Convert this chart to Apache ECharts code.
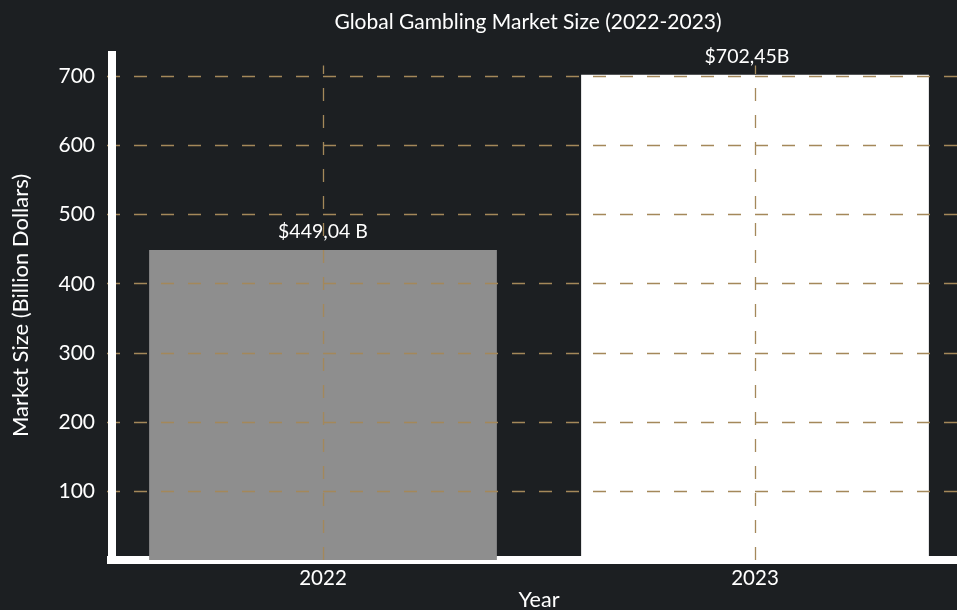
<!DOCTYPE html>
<html>
<head>
<meta charset="utf-8">
<script src="https://cdn.jsdelivr.net/npm/echarts@6/dist/echarts.min.js"></script>
<style>
  html, body { margin: 0; padding: 0; background: #1c1f22; }
  #view { width: 957px; height: 610px; }
</style>
</head>
<body>
<div id="view"></div>
<script>
var years = ['2022', '2023'];
var marketSize = [449.04, 702.45];
var barLabels = ['$449,04 B', '$702,45B'];
var barColors = ['#8e8e8e', '#ffffff'];

var font = 'Lato';
var gridColor = '#a4885a';
var myChart = echarts.init(document.getElementById('view'));

var barData = marketSize.map(function (v, i) {
    return {
        value: v,
        itemStyle: { color: barColors[i] },
        label: { formatter: barLabels[i], offset: i == 1 ? [-8, 0] : [0, 0] }
    };
});

var vLines = years.map(function (y) {
    return [{ coord: [y, 0] }, { coord: [y, 716] }];
});

option = {
    backgroundColor: '#1c1f22',
    animation: false,
    title: {
        text: 'Global Gambling Market Size (2022-2023)',
        left: 523,
        textAlign: 'center',
        top: 7,
        textStyle: { color: '#ffffff', fontFamily: font, fontSize: 21, fontWeight: 'normal' }
    },
    grid: { left: 107, right: -14, top: 51, bottom: 50, containLabel: false, outerBoundsMode: 'none' },
    xAxis: {
        type: 'category',
        data: years,
        name: 'Year',
        nameLocation: 'middle',
        nameGap: 29,
        nameMoveOverlap: false,
        nameTextStyle: { color: '#ffffff', fontFamily: font, fontSize: 21.5 },
        axisLine: { lineStyle: { color: '#ffffff', width: 8, cap: 'butt' } },
        axisTick: { show: false },
        axisLabel: { color: '#ffffff', fontFamily: font, fontSize: 20.5, margin: 8 },
        splitLine: { show: false }
    },
    yAxis: {
        type: 'value',
        min: 0,
        max: 737,
        interval: 100,
        offset: -5,
        z: 5,
        name: 'Market Size (Billion Dollars)',
        nameLocation: 'middle',
        nameGap: 80,
        nameMoveOverlap: false,
        nameTextStyle: { color: '#ffffff', fontFamily: font, fontSize: 22 },
        axisLine: { show: true, lineStyle: { color: '#ffffff', width: 8, cap: 'butt' } },
        axisTick: { show: false },
        axisLabel: {
            color: '#ffffff', fontFamily: font, fontSize: 21, margin: 17,
            showMinLabel: false, showMaxLabel: false,
            formatter: function (v) { return v == 0 ? '' : v; }
        },
        splitLine: {
            show: true, showMinLine: false, showMaxLine: false,
            lineStyle: { color: gridColor, width: 1.4, type: [13, 14] }
        }
    },
    series: [{
        type: 'bar',
        data: barData,
        barWidth: '80.5%',
        label: {
            show: true,
            position: 'top',
            distance: 8,
            color: '#ffffff',
            fontFamily: font,
            fontSize: 19.5
        },
        markLine: {
            silent: true,
            symbol: 'none',
            label: { show: false },
            lineStyle: { color: gridColor, width: 1.3, type: [13, 14] },
            data: vLines
        }
    }]
};

myChart.setOption(option);
</script>
</body>
</html>
